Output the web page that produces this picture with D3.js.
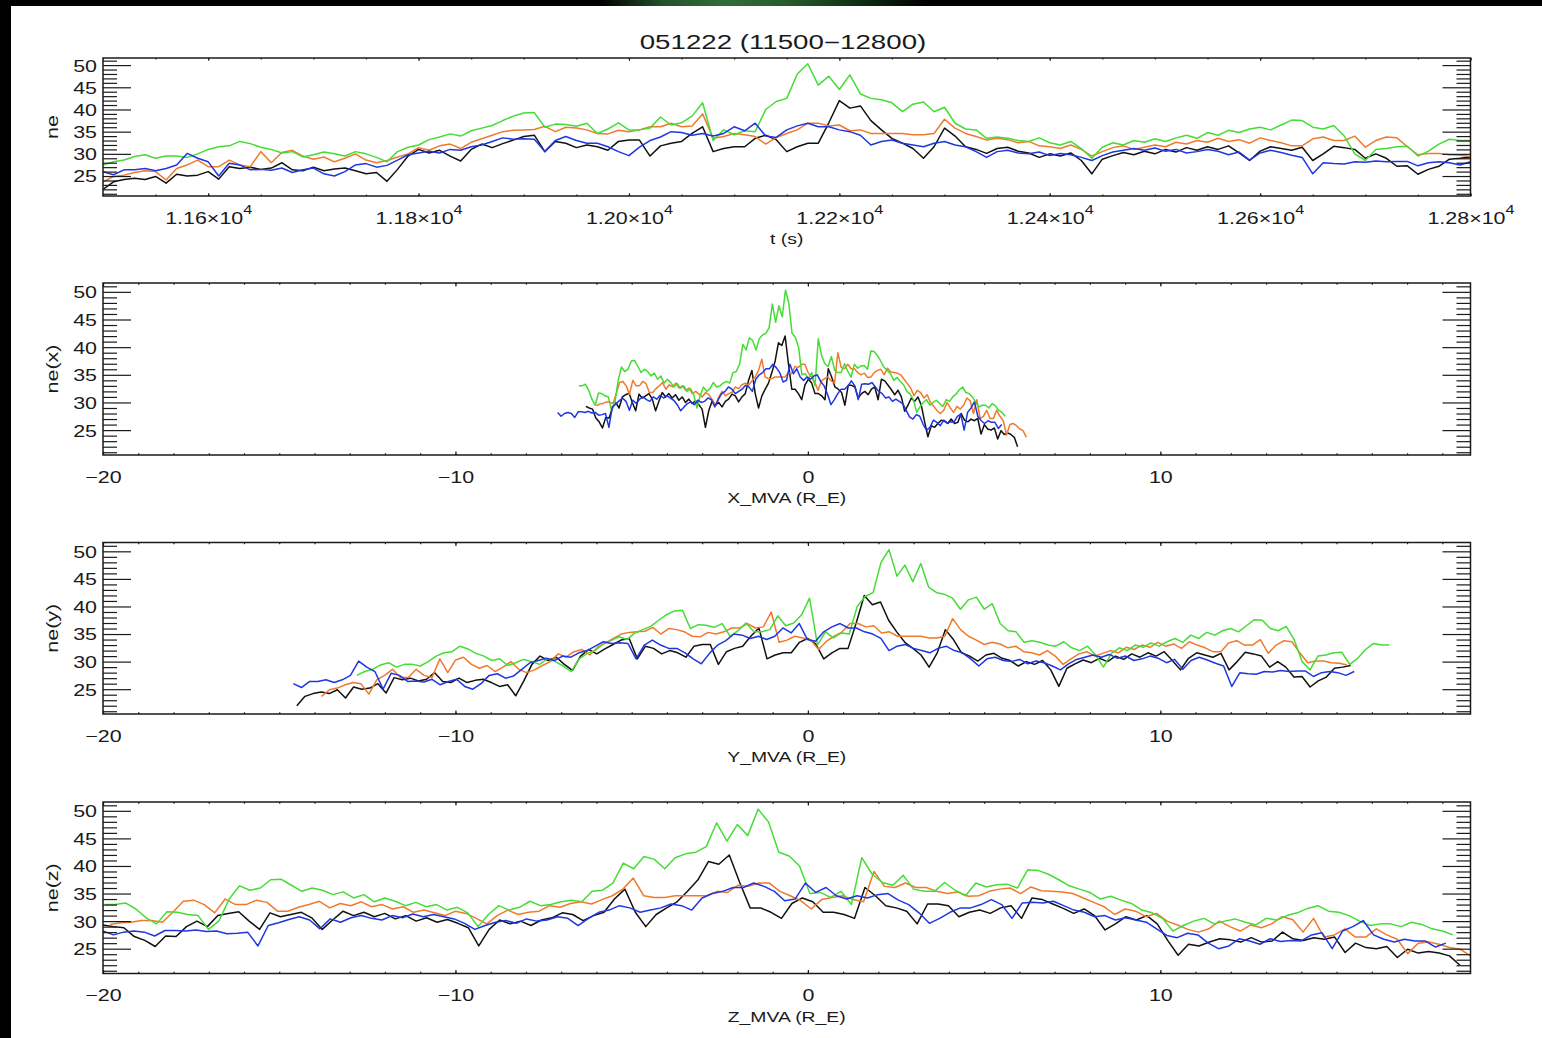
<!DOCTYPE html>
<html>
<head>
<meta charset="utf-8">
<script src="https://cdn.jsdelivr.net/npm/d3@7"></script>
<style>
  html, body { margin: 0; padding: 0; background: #fff; }
  svg { display: block; }
  text { font-family: "Liberation Sans", Arial, Helvetica, sans-serif; fill: #1a1a1a; }
</style>
</head>
<body>
<svg id="chart" width="1542" height="1038"></svg>
<script>
// ---------------------------------------------------------------------------
// Electron density (cm^-3) measured by the four spacecraft, 10 s samples
// ---------------------------------------------------------------------------
const sampleTimes = [
  11500, 11510, 11520, 11530, 11540, 11550, 11560, 11570, 11580, 11590,
  11600, 11610, 11620, 11630, 11640, 11650, 11660, 11670, 11680, 11690,
  11700, 11710, 11720, 11730, 11740, 11750, 11760, 11770, 11780, 11790,
  11800, 11810, 11820, 11830, 11840, 11850, 11860, 11870, 11880, 11890,
  11900, 11910, 11920, 11930, 11940, 11950, 11960, 11970, 11980, 11990,
  12000, 12010, 12020, 12030, 12040, 12050, 12060, 12070, 12080, 12090,
  12100, 12110, 12120, 12130, 12140, 12150, 12160, 12170, 12180, 12190,
  12200, 12210, 12220, 12230, 12240, 12250, 12260, 12270, 12280, 12290,
  12300, 12310, 12320, 12330, 12340, 12350, 12360, 12370, 12380, 12390,
  12400, 12410, 12420, 12430, 12440, 12450, 12460, 12470, 12480, 12490,
  12500, 12510, 12520, 12530, 12540, 12550, 12560, 12570, 12580, 12590,
  12600, 12610, 12620, 12630, 12640, 12650, 12660, 12670, 12680, 12690,
  12700, 12710, 12720, 12730, 12740, 12750, 12760, 12770, 12780, 12790,
  12800
];

const neC1 = [ // black
  22.0, 23.7, 24.2, 24.5, 24.2, 24.9, 23.4, 25.4, 25.0, 25.2, 26.0, 24.3, 27.1, 26.7, 27.0,
  26.5, 26.8, 28.0, 26.4, 26.2, 27.0, 26.2, 26.6, 26.8, 26.2, 25.5, 25.8, 23.8, 26.5, 29.5,
  31.0, 30.2, 30.8, 29.5, 28.4, 31.0, 32.2, 31.4,
  32.3, 33.1, 33.9, 34.2, 30.5, 32.8, 32.4, 31.4, 32.0, 31.6, 30.8, 32.8, 33.1, 33.1, 29.5,
  31.8, 32.4, 32.8, 34.6, 36.1, 30.5, 31.2, 31.6, 31.6, 33.5, 34.2, 33.2,
  30.5, 31.6, 32.4, 32.4, 37.0, 42.0, 40.3, 40.8, 37.5, 35.4, 33.5, 32.4, 31.2, 29.0, 31.6,
  35.8, 34.0, 31.6, 31.0, 30.1, 31.2,
  31.5, 30.6, 30.2, 29.2, 30.0, 29.5, 30.2, 28.5, 25.5, 28.8, 29.6, 30.3, 29.8, 30.6, 30.0,
  31.0, 30.4, 31.4, 30.8, 31.6, 31.0, 31.8, 30.2, 28.5, 30.6, 31.6, 31.2, 30.8,
  31.5, 28.5, 30.0, 31.7, 31.4, 31.0, 29.0, 30.0, 29.0, 27.2, 27.3, 25.4, 26.5, 27.2, 28.8,
  29.0, 29.3
];

const neC2 = [ // orange
  23.7, 24.9, 25.2, 25.8, 26.2, 26.0, 24.1, 26.7, 27.5, 28.6, 27.1, 27.1, 28.6, 27.5, 27.1,
  30.5, 28.0, 30.3, 30.8, 29.5, 28.8, 29.3, 28.2, 29.0, 30.0, 28.6, 28.0, 28.5, 29.3, 30.0,
  31.4, 30.8, 31.8, 32.2, 31.2, 32.6, 33.4, 34.2,
  35.0, 35.3, 35.4, 35.5, 36.2, 35.0, 36.0, 35.8, 35.4, 34.6, 34.5, 35.3, 35.0, 35.4, 36.1,
  36.1, 36.9, 36.1, 36.3, 39.0, 33.5, 33.9, 34.6, 34.3, 33.9, 32.2, 33.7,
  34.6, 35.4, 36.9, 36.9, 36.3, 36.5, 35.2, 35.4, 34.6, 34.6, 34.6, 34.6, 34.3, 34.3, 34.6,
  37.8, 35.8, 34.6, 33.9, 33.1, 33.5,
  33.2, 32.5, 32.8, 31.8, 31.6, 31.2, 32.0, 31.0, 29.5, 30.5, 31.4, 31.8, 31.0, 31.5, 32.0,
  31.6, 32.6, 32.2, 33.0, 32.6, 33.5, 32.8, 33.2, 32.4, 33.6, 33.0, 32.5, 31.8,
  31.8, 33.4, 33.8, 33.0, 33.0, 34.0, 31.5, 33.0, 33.8, 33.6, 31.6, 29.8, 30.1, 30.1, 29.8,
  29.7, 29.4
];

const neC3 = [ // green
  27.5, 28.2, 28.6, 29.4, 29.8, 29.0, 29.5, 29.5, 29.2, 30.0, 31.0, 31.6, 31.8, 32.8, 32.3,
  31.5, 31.0, 30.2, 30.5, 29.3, 29.8, 30.4, 30.0, 29.5, 30.5, 30.0, 29.2, 28.2, 30.5, 31.5,
  32.0, 33.2, 33.8, 34.5, 34.0, 35.2, 35.8, 36.4,
  37.5, 38.5, 39.2, 39.3, 36.0, 36.7, 36.6, 36.2, 36.9, 34.6, 35.6, 37.0, 35.4, 35.4, 35.8,
  38.3, 36.5, 37.0, 38.5, 41.5, 33.0, 35.4, 34.3, 35.2, 35.0, 40.0, 41.8,
  42.5, 48.0, 50.3, 45.5, 47.5, 44.5, 47.8, 43.5, 42.5, 42.2, 41.5, 39.5, 41.2, 41.7, 39.5,
  40.5, 36.9, 35.6, 35.4, 33.5, 33.8,
  33.5, 33.0, 32.8, 33.6, 32.5, 32.0, 32.8, 31.2, 29.0, 31.5, 32.5, 32.0, 33.0, 32.6, 33.4,
  32.8, 33.6, 34.2, 33.5, 34.8, 34.2, 35.3, 34.8, 35.6, 36.0, 35.4, 36.5, 37.6,
  37.5, 36.0, 35.6, 36.4, 34.0, 30.0, 28.5, 31.0, 31.2, 31.6, 31.7, 29.5, 30.6, 32.2, 33.3,
  33.0, 33.0
];

const neC4 = [ // blue
  26.0, 25.3, 26.4, 26.4, 26.7, 26.2, 26.7, 27.5, 30.1, 29.0, 28.2, 25.0, 27.9, 27.5, 26.4,
  26.5, 26.3, 26.8, 25.8, 26.4, 26.8, 25.5, 25.0, 26.0, 27.5, 27.8, 27.0, 27.4, 28.6, 29.8,
  30.2, 30.6, 30.2, 31.0, 30.8, 31.6, 32.0, 32.8,
  33.6, 33.3, 33.4, 33.3, 30.5, 33.0, 33.9, 33.0, 32.4, 32.4, 31.6, 30.5, 29.6, 31.5, 33.0,
  33.8, 35.0, 34.8, 34.2, 34.6, 34.0, 34.6, 36.1, 35.2, 36.9, 34.0, 33.7,
  35.4, 36.3, 36.9, 36.1, 36.1, 35.4, 35.0, 34.2, 32.0, 32.8, 33.1, 32.4, 32.0, 31.6, 32.4,
  32.8, 32.0, 31.6, 30.5, 29.2, 30.5,
  30.8, 30.2, 30.0, 30.4, 29.6, 30.1, 29.8, 29.2, 28.5, 29.6, 30.4, 30.8, 31.2, 30.8, 31.3,
  30.6, 31.0, 30.2, 30.5, 31.0, 30.6, 29.8, 30.4, 28.6, 30.2, 30.8, 30.3, 29.7,
  29.2, 25.5, 28.0, 27.8, 27.7, 28.2, 28.1, 28.4, 28.2, 28.3, 28.3, 27.3, 28.0, 28.2, 28.0,
  27.5, 28.2
];

const densitySeries = [neC1, neC2, neC3, neC4];
const seriesColors = ["#111111", "#f07a2c", "#46dc36", "#1f36e2"];

// Spacecraft MVA positions (R_E) at the start (11500 s) and end (12800 s)
const xMvaStart = [5.95, 6.2, 5.6, 5.5];
const xMvaEnd   = [-6.3, -6.0, -6.5, -7.1];
const yMvaStart = [-14.5, -13.8, -12.8, -14.6];
const yMvaEnd   = [15.4, 15.3, 16.5, 15.5];
const zMvaStart = [18.5, 18.8, 18.3, 18.1];
const zMvaEnd   = [-20.0, -19.8, -19.95, -20.0];

// Axis ranges and tick labels
const timeRange = [11500, 12800];
const mvaRange = [-20, 18.8];
const neRange = [20.5, 51.6];
const neMajorTicks = [25, 30, 35, 40, 45, 50];
const neMinorTicks = [21, 22, 23, 24, 26, 27, 28, 29, 31, 32, 33, 34, 36, 37, 38, 39, 41, 42, 43, 44, 46, 47, 48, 49, 51];
const timeMajorTicks = [11600, 11800, 12000, 12200, 12400, 12600, 12800];
const timeTickMantissa = ["1.16", "1.18", "1.20", "1.22", "1.24", "1.26", "1.28"];
const timeTickExponent = "4";
const mvaMajorTicks = [-20, -10, 0, 10];
const mvaTickLabels = ["\u221220", "\u221210", "0", "10"];

const chartTitle = "051222 (11500\u221212800)";

// ---------------------------------------------------------------------------
const W = 1542, H = 1038;
const svg = d3.select("#chart");
const defs = svg.append("defs");

// Page background with dark frame strips
svg.append("rect").attr("width", W).attr("height", H).attr("fill", "#ffffff");
const band = defs.append("linearGradient").attr("id", "topBand").attr("x1", 0).attr("x2", 1).attr("y1", 0).attr("y2", 0);
[[0, "#000"], [0.39, "#000"], [0.43, "#24522a"], [0.47, "#316d36"], [0.51, "#285a2c"], [0.55, "#123618"], [0.6, "#000"], [1, "#000"]]
  .forEach(([o, c]) => band.append("stop").attr("offset", o).attr("stop-color", c));
svg.append("rect").attr("x", 0).attr("y", 0).attr("width", W).attr("height", 6).attr("fill", "url(#topBand)");
svg.append("rect").attr("x", 0).attr("y", 0).attr("width", 11).attr("height", H).attr("fill", "#000");

const plotLeft = 103, plotRight = 1470.5;
const TEXT_STRETCH = 1.3;
const tickFont = 16.5;

const panels = [
  { id: "t", top: 58, bottom: 196, yTitle: "ne", xTitle: "t (s)", coord: null },
  { id: "x", top: 283, bottom: 455, yTitle: "ne(x)", xTitle: "X_MVA (R_E)", coord: [xMvaStart, xMvaEnd] },
  { id: "y", top: 542.5, bottom: 714, yTitle: "ne(y)", xTitle: "Y_MVA (R_E)", coord: [yMvaStart, yMvaEnd] },
  { id: "z", top: 802, bottom: 973.5, yTitle: "ne(z)", xTitle: "Z_MVA (R_E)", coord: [zMvaStart, zMvaEnd] }
];

function styleAxis(g) {
  g.attr("font-family", null).attr("font-size", null).attr("color", "#1a1a1a");
  g.select(".domain").remove();
  g.selectAll(".tick line").attr("stroke-width", 1.2);
}

panels.forEach(p => {
  const isTime = p.coord === null;
  const x = d3.scaleLinear().domain(isTime ? timeRange : mvaRange).range([plotLeft, plotRight]);
  const y = d3.scaleLinear().domain(neRange).range([p.bottom, p.top]);
  const g = svg.append("g");

  defs.append("clipPath").attr("id", "clip-" + p.id)
    .append("rect").attr("x", plotLeft).attr("y", p.top)
    .attr("width", plotRight - plotLeft).attr("height", p.bottom - p.top);

  // density traces
  const line = d3.line().x(d => x(d[0])).y(d => y(d[1]));
  const traces = g.append("g").attr("clip-path", `url(#clip-${p.id})`);
  densitySeries.forEach((vals, i) => {
    let pos;
    if (isTime) {
      pos = t => t;
    } else {
      pos = d3.scaleLinear().domain(timeRange).range([p.coord[0][i], p.coord[1][i]]);
    }
    const pts = sampleTimes.map((t, j) => [pos(t), vals[j]]);
    traces.append("path").datum(pts)
      .attr("d", line)
      .attr("fill", "none")
      .attr("stroke", seriesColors[i])
      .attr("stroke-width", 1.5)
      .attr("stroke-linejoin", "round");
  });

  // y axes: ticks on both sides, pointing inward
  const yMinorL = g.append("g").attr("transform", `translate(${plotLeft},0)`)
    .call(d3.axisLeft(y).tickValues(neMinorTicks).tickSize(-14).tickFormat(""));
  styleAxis(yMinorL);
  const yMajorL = g.append("g").attr("transform", `translate(${plotLeft},0)`)
    .call(d3.axisLeft(y).tickValues(neMajorTicks).tickSize(-28).tickFormat(d3.format("d")));
  styleAxis(yMajorL);
  yMajorL.selectAll(".tick text")
    .attr("x", 0).attr("dy", "0.36em")
    .attr("font-size", tickFont)
    .attr("text-anchor", "end")
    .attr("transform", `translate(-6,0) scale(${TEXT_STRETCH},1)`);

  const yMinorR = g.append("g").attr("transform", `translate(${plotRight},0)`)
    .call(d3.axisRight(y).tickValues(neMinorTicks).tickSize(-14).tickFormat(""));
  styleAxis(yMinorR);
  const yMajorR = g.append("g").attr("transform", `translate(${plotRight},0)`)
    .call(d3.axisRight(y).tickValues(neMajorTicks).tickSize(-28).tickFormat(""));
  styleAxis(yMajorR);

  // x axes: bottom with labels, top without
  const h = p.bottom - p.top;
  const majLen = h * 0.02, minLen = h * 0.01;
  const xMinor = isTime ? d3.range(11500, 12801, 50) : d3.range(-20, 19, 1);
  const xMajor = isTime ? timeMajorTicks : mvaMajorTicks;

  [["bottom", p.bottom], ["top", p.top]].forEach(([side, yy]) => {
    const mk = side === "bottom" ? d3.axisBottom : d3.axisTop;
    const gm = g.append("g").attr("transform", `translate(0,${yy})`)
      .call(mk(x).tickValues(xMinor).tickSize(-minLen).tickFormat(""));
    styleAxis(gm);
    const gM = g.append("g").attr("transform", `translate(0,${yy})`)
      .call(mk(x).tickValues(xMajor).tickSize(-majLen).tickFormat(""));
    styleAxis(gM);
    if (side === "bottom") {
      gM.selectAll(".tick text").each(function (d, i) {
        const t = d3.select(this)
          .attr("y", 0).attr("dy", null)
          .attr("font-size", tickFont)
          .attr("text-anchor", "middle")
          .attr("transform", `translate(0,27.5) scale(${TEXT_STRETCH},1)`);
        if (isTime) {
          t.append("tspan").text(timeTickMantissa[i] + "\u00d710");
          t.append("tspan").attr("dy", -10).attr("font-size", 12.5).text(timeTickExponent);
        } else {
          t.text(mvaTickLabels[i]);
        }
      });
    }
  });

  // frame
  g.append("rect")
    .attr("x", plotLeft).attr("y", p.top)
    .attr("width", plotRight - plotLeft).attr("height", h)
    .attr("fill", "none").attr("stroke", "#1a1a1a").attr("stroke-width", 1.5);

  // axis titles
  g.append("text")
    .attr("text-anchor", "middle")
    .attr("font-size", 15.5)
    .attr("transform", `translate(${(plotLeft + plotRight) / 2},${p.bottom + 48}) scale(1.25,1)`)
    .text(p.xTitle);
  g.append("text")
    .attr("text-anchor", "middle")
    .attr("font-size", tickFont)
    .attr("transform", `translate(58,${(p.top + p.bottom) / 2}) rotate(-90) scale(${TEXT_STRETCH},1)`)
    .text(p.yTitle);
});

// chart title
svg.append("text")
  .attr("text-anchor", "middle")
  .attr("font-size", 19.5)
  .attr("transform", `translate(783,49) scale(1.42,1)`)
  .text(chartTitle);
</script>
</body>
</html>
